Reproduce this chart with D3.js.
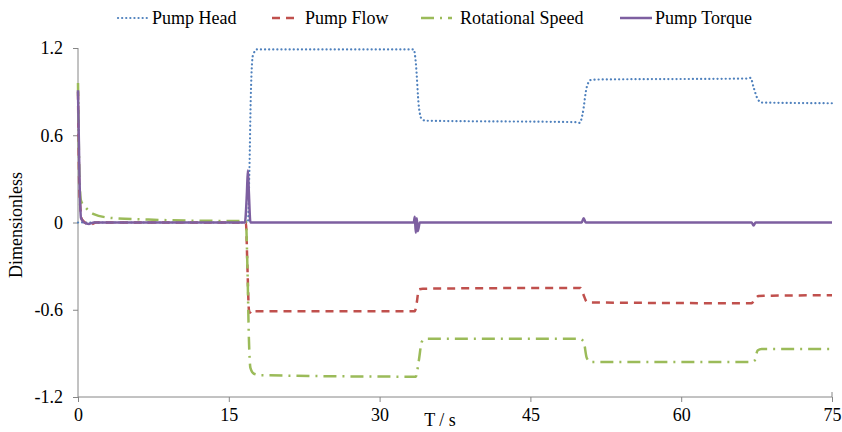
<!DOCTYPE html>
<html>
<head>
<meta charset="utf-8">
<script src="https://cdn.jsdelivr.net/npm/d3@7"></script>
<style>
    body { margin: 0; background: #fff; }
    svg { font-family: "Liberation Serif", "Times New Roman", serif; }
    .axis path, .axis line { stroke: #868686; }
    .axis text { font-size: 18px; fill: #000; font-family: "Liberation Serif", serif; }
</style>
</head>
<body>
<svg width="842" height="432"></svg>
<script>
// 데이터: [시간(s), 무차원 값]
const xTicks = [0, 15, 30, 45, 60, 75];
const yTicks = [-1.2, -0.6, 0, 0.6, 1.2];
const seriesNames = ["Pump Head", "Pump Flow", "Rotational Speed", "Pump Torque"];

const pumpHead = [
    [0, 0], [16.9, 0], [17.05, 0.36], [17.2, 0.9], [17.4, 1.15], [17.8, 1.19],
    [33.4, 1.19], [33.6, 1.1], [33.9, 0.8], [34.2, 0.71], [34.6, 0.7],
    [49.5, 0.69], [49.9, 0.685], [50.2, 0.75], [50.6, 0.93], [51.0, 0.98], [51.5, 0.983],
    [66.6, 0.99], [66.9, 0.995], [67.2, 0.93], [67.6, 0.85], [68.0, 0.825], [75, 0.82]
];
const pumpFlow = [
    [0, 0.9], [0.15, 0.2], [0.4, 0.02], [1.2, -0.015], [1.8, 0], [16.7, 0],
    [16.85, -0.3], [17.0, -0.6], [17.1, -0.62], [17.3, -0.6], [17.6, -0.61],
    [33.5, -0.61], [33.7, -0.55], [33.9, -0.46], [34.3, -0.455],
    [50.0, -0.45], [50.3, -0.5], [50.6, -0.545], [51.0, -0.55],
    [67.0, -0.555], [67.3, -0.53], [67.7, -0.505], [75, -0.5]
];
const rotSpeed = [
    [0, 0.96], [0.15, 0.3], [0.3, 0.15], [0.8, 0.1], [1.5, 0.06], [3.5, 0.03],
    [7, 0.02], [12, 0.012], [16.7, 0.01], [16.85, -0.3], [17.0, -0.8], [17.15, -1.0],
    [17.5, -1.04], [18.2, -1.05], [33.0, -1.06], [33.6, -1.06], [33.9, -0.95],
    [34.2, -0.82], [34.6, -0.8], [49.9, -0.8], [50.3, -0.82], [50.6, -0.93],
    [51.0, -0.96], [67.0, -0.96], [67.3, -0.95], [67.6, -0.88], [68.0, -0.87], [75, -0.87]
];
const pumpTorque = [
    [0, 0.91], [0.15, 0.3], [0.3, 0.03], [0.6, 0], [1.1, -0.01], [1.6, 0],
    [16.6, 0], [16.8, 0.2], [16.9, 0.36], [17.0, 0.2], [17.15, 0], [33.4, 0],
    [33.5, 0.04], [33.6, -0.07], [33.7, 0.03], [33.8, -0.06], [34.0, 0],
    [50.1, 0], [50.3, 0.03], [50.5, 0], [67.0, 0], [67.2, -0.02], [67.4, 0], [75, 0]
];

const svg = d3.select("svg");

const xScale = d3.scaleLinear().domain([0, 75]).range([78, 832]);
const yScale = d3.scaleLinear().domain([-1.2, 1.2]).range([397, 48]);

// 축
svg.append("g")
    .attr("class", "axis")
    .attr("transform", "translate(0," + yScale(-1.2) + ")")
    .call(d3.axisBottom(xScale).tickValues(xTicks).tickSize(5).tickPadding(6).tickFormat(d3.format("d")))
    .call(g => g.select(".domain").attr("d", "M" + xScale(0) + ",0H" + xScale(75) + "V-5"));

svg.append("g")
    .attr("class", "axis")
    .attr("transform", "translate(" + xScale(0) + ",0)")
    .call(d3.axisLeft(yScale).tickValues(yTicks).tickSize(5).tickPadding(10)
        .tickFormat(d => d === 0 ? "0" : d.toFixed(1)))
    .call(g => g.select(".domain").attr("d", "M0," + yScale(1.2) + "V" + yScale(-1.2)));

// 축 제목
svg.append("text")
    .attr("transform", "translate(22,225) rotate(-90)")
    .attr("text-anchor", "middle")
    .style("font-size", "18px")
    .text("Dimensionless");

svg.append("text")
    .attr("x", 440)
    .attr("y", 426)
    .attr("text-anchor", "middle")
    .style("font-size", "18px")
    .text("T / s");

// 선 스타일
const styles = [
    { data: pumpHead, color: "#4f81bd", dash: "0.1,4", width: 2.2, cap: "round" },
    { data: pumpFlow, color: "#c0504d", dash: "8,6", width: 2.5, cap: "butt" },
    { data: rotSpeed, color: "#9bbb59", dash: "13,6,2,6", width: 2.5, cap: "butt" },
    { data: pumpTorque, color: "#7d5fa0", dash: null, width: 2.5, cap: "butt" }
];

const line = d3.line()
    .x(d => xScale(d[0]))
    .y(d => yScale(d[1]))
    .curve(d3.curveMonotoneX);

const lineG = svg.append("g");
styles.forEach(s => {
    lineG.append("path")
        .datum(s.data)
        .attr("fill", "none")
        .attr("stroke", s.color)
        .attr("stroke-width", s.width)
        .attr("stroke-linecap", s.cap)
        .attr("stroke-linejoin", "round")
        .attr("stroke-dasharray", s.dash)
        .attr("d", line);
});

// 범례
const legendPos = [{ x0: 118, x1: 147, tx: 152 }, { x0: 272, x1: 298, tx: 305 },
    { x0: 421, x1: 452, tx: 460 }, { x0: 620, x1: 652, tx: 655 }];
const legendG = svg.append("g");
seriesNames.forEach((name, i) => {
    const s = styles[i], p = legendPos[i];
    legendG.append("line")
        .attr("x1", p.x0).attr("x2", p.x1)
        .attr("y1", 18).attr("y2", 18)
        .attr("stroke", s.color)
        .attr("stroke-width", s.width)
        .attr("stroke-linecap", s.cap)
        .attr("stroke-dasharray", s.dash);
    legendG.append("text")
        .attr("x", p.tx)
        .attr("y", 24)
        .style("font-size", "18px")
        .text(name);
});
</script>
</body>
</html>
